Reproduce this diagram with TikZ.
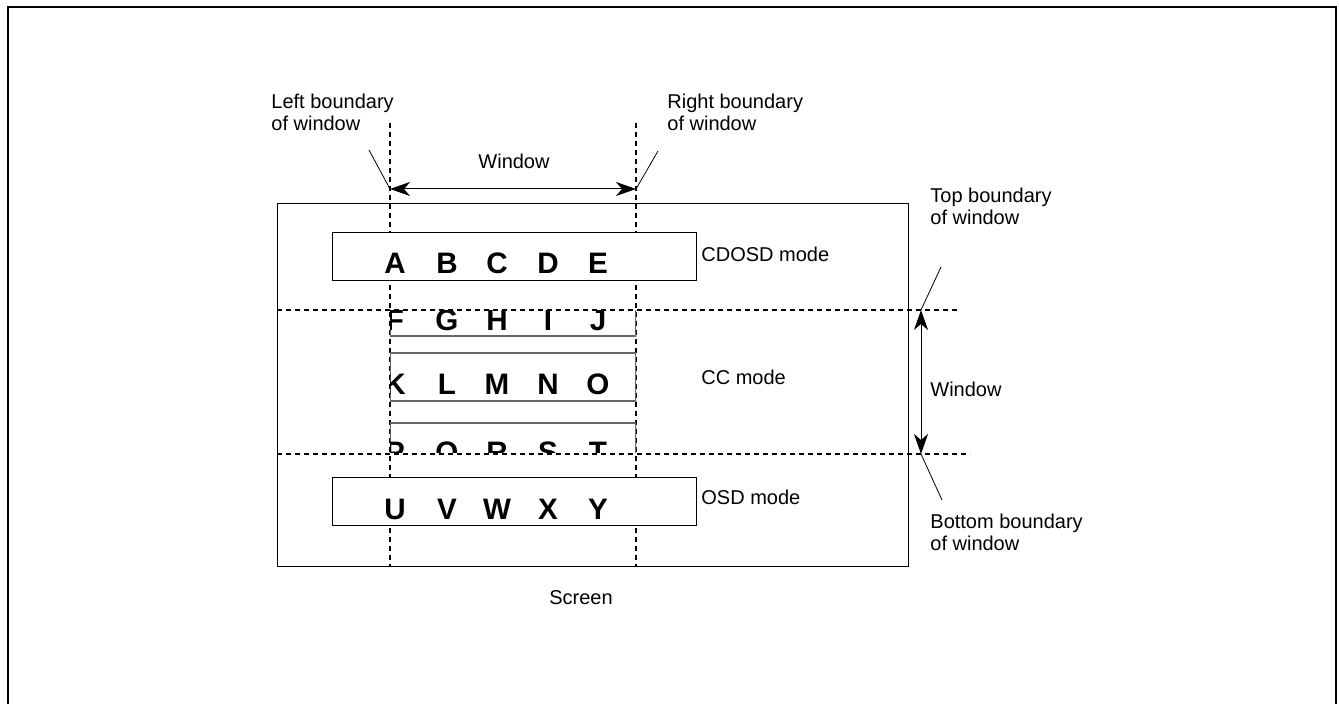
\documentclass[tikz,border=0pt]{standalone}
\usepackage{fontspec}
\setmainfont{Liberation Sans}
\usetikzlibrary{arrows.meta, positioning}

\begin{document}
\begin{tikzpicture}[
  x=0.5pt, y=-0.5pt,
  lbl/.style={font=\fontsize{10}{11}\selectfont, align=left, inner sep=0pt},
  chr/.style={font=\fontsize{14.8}{16}\selectfont\bfseries, inner sep=0pt, anchor=base},
  frame/.style={line width=1pt},
  modebox/.style={draw, fill=white, line width=0.5pt},
  rowbox/.style={draw=black!60, line width=0.6pt},
  bnd/.style={line width=0.9pt, dash pattern=on 2.5pt off 2pt},
  dim/.style={{Stealth[length=10pt, width=7pt, inset=3pt]}-{Stealth[length=10pt, width=7pt, inset=3pt]}, line width=0.5pt},
  lead/.style={line width=0.4pt},
]
\useasboundingbox (0,0) rectangle (1339,704);

% ---- Outer frame -----------------------------------------------------------
\draw[frame] (8,704) -- (8,7) -- (1336,7) -- (1336,704);

% ---- Screen ----------------------------------------------------------------
\draw[line width=0.5pt] (277,204) rectangle (908,567);
\node[lbl, anchor=base] (screen) at (581,605) {Screen};

% ---- Window boundaries -----------------------------------------------------
\draw[bnd] (390,123) -- (390,566);
\draw[bnd] (636,123) -- (636,566);
\draw[bnd] (277,310) -- (958,310);
\draw[bnd] (277,454) -- (970,454);

% ---- CC mode rows (clipped by window) --------------------------------------
\begin{scope}
  \clip (390,311) rectangle (636,453);
  \draw[rowbox] (390,288) rectangle (636,336);
  \draw[rowbox] (390,353) rectangle (636,401);
  \draw[rowbox] (390,423) rectangle (636,471);
  \foreach \l/\x in {F/395, G/447, H/497, I/548, J/598}
    \node[chr] (cc-\l) at (\x,331) {\l};
  \foreach \l/\x in {K/395, L/447, M/497, N/548, O/598}
    \node[chr] (cc-\l) at (\x,395) {\l};
  \foreach \l/\x in {P/395, Q/447, R/497, S/548, T/598}
    \node[chr] (cc-\l) at (\x,463) {\l};
\end{scope}
\node[lbl, anchor=base west] (ccm) at (701,385) {CC mode};

% ---- CDOSD mode ------------------------------------------------------------
\draw[modebox] (332,233) rectangle (696,281);
\foreach \l/\x in {A/395, B/447, C/497, D/548, E/598}
  \node[chr] (cd-\l) at (\x,274) {\l};
\node[lbl, anchor=base west] (cdm) at (701,262) {CDOSD mode};

% ---- OSD mode --------------------------------------------------------------
\draw[modebox] (332,478) rectangle (696,526);
\foreach \l/\x in {U/395, V/447, W/497, X/548, Y/598}
  \node[chr] (os-\l) at (\x,520) {\l};
\node[lbl, anchor=base west] (osm) at (701,505) {OSD mode};

% ---- Horizontal window -----------------------------------------------------
\coordinate (wl) at (390,189);
\coordinate (wr) at (636,189);
\draw[dim] (wl) -- (wr);
\node[lbl, anchor=base] (winh) at (514,169) {Window};
\node[lbl, anchor=north west] (lbl-l) at (271,94) {Left boundary\\of window};
\node[lbl, anchor=north west] (lbl-r) at (667,94) {Right boundary\\of window};
\coordinate (ll) at (369,150);
\coordinate (rl) at (658,151);
\draw[lead] (ll) -- (wl);
\draw[lead] (rl) -- (wr);

% ---- Vertical window -------------------------------------------------------
\coordinate (wt) at (921,310);
\coordinate (wb) at (921,454);
\draw[dim] (wt) -- (wb);
\node[lbl, anchor=base west] (winv) at (930,397) {Window};
\node[lbl, anchor=north west] (lbl-t) at (930,188) {Top boundary\\of window};
\node[lbl, anchor=north west] (lbl-b) at (930,514) {Bottom boundary\\of window};
\coordinate (tl) at (941,267);
\coordinate (bl) at (942,500);
\draw[lead] (tl) -- (wt);
\draw[lead] (bl) -- (wb);

\end{tikzpicture}
\end{document}
